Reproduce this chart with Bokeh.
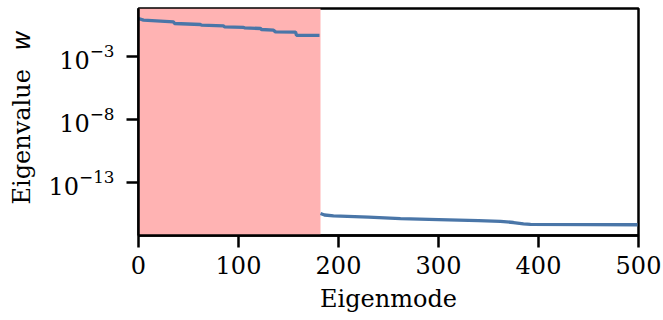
import math
from bokeh.plotting import figure
from bokeh.layouts import row
from bokeh.models import Range1d, FixedTicker, BoxAnnotation
from bokeh.core.properties import value
from bokeh.embed import file_html
from bokeh.resources import INLINE

# ---- data ----
# nonzero eigenvalues (stepwise, degenerate groups)
modes_top = [0, 5, 35, 36, 62, 63, 85, 86, 105, 106, 122, 123, 135, 137, 157, 158, 181]
vals_top = [1.13, 0.84, 0.615, 0.454, 0.378, 0.334, 0.296, 0.246, 0.224, 0.205,
            0.182, 0.151, 0.134, 0.098, 0.095, 0.053, 0.052]
# numerically zero eigenvalues
modes_bot = [182, 186, 195, 230, 262, 300, 340, 362, 375, 385, 392, 450, 499]
vals_bot = [3.5e-16, 2.7e-16, 2.3e-16, 1.8e-16, 1.4e-16, 1.15e-16, 9.5e-17,
            8.5e-17, 6.8e-17, 5.4e-17, 4.8e-17, 4.7e-17, 4.5e-17]
span_start, span_end = 0, 182
x_ticks = [0, 100, 200, 300, 400, 500]
y_ticks = [1e-3, 1e-8, 1e-13]
x_label = "Eigenmode"
y_label_main = "Eigenvalue"
y_label_var = "w"

FONT = "DejaVu Serif"
LINE = "#4a76a8"
LEFT_W = 40

p = figure(width=663 - LEFT_W, height=320, y_axis_type="log",
           x_range=Range1d(0, 500), y_range=Range1d(10 ** -17.2, 10 ** 0.85),
           output_backend="svg", toolbar_location=None,
           min_border_left=138 - LEFT_W, min_border_right=25,
           min_border_top=8, min_border_bottom=85)

p.background_fill_color = "white"
p.border_fill_color = "white"
p.grid.visible = False
p.outline_line_color = "black"
p.outline_line_width = 2.5

p.add_layout(BoxAnnotation(left=span_start, right=span_end,
                           fill_color="#ffb3b3", fill_alpha=1.0, line_color=None,
                           level="underlay"))

p.line(modes_top, vals_top, line_color=LINE, line_width=3.3)
p.line(modes_bot, vals_bot, line_color=LINE, line_width=3.3)

p.xaxis.ticker = FixedTicker(ticks=x_ticks)
p.yaxis.ticker = FixedTicker(ticks=y_ticks)

for ax in (p.xaxis, p.yaxis):
    ax.axis_line_width = 2.5
    ax.axis_line_color = "black"
    ax.major_tick_line_width = 2.5
    ax.major_tick_line_color = "black"
    ax.major_tick_out = 12
    ax.major_tick_in = 0
    ax.minor_tick_line_color = None
    ax.major_label_text_font = FONT
    ax.major_label_text_font_size = "24px"
    ax.major_label_text_color = "black"
    ax.axis_label_text_font = FONT
    ax.axis_label_text_font_size = "24px"
    ax.axis_label_text_font_style = "normal"
    ax.axis_label_text_color = "black"

p.xaxis.major_label_standoff = 8
p.yaxis.major_label_standoff = 12
p.xaxis.axis_label = x_label
p.xaxis.axis_label_standoff = 8

# narrow panel on the left holding the y-axis title ("Eigenvalue" + italic "w")
lab = figure(width=LEFT_W, height=320, x_range=Range1d(0, LEFT_W),
             y_range=Range1d(85, 312), output_backend="svg", toolbar_location=None,
             x_axis_location=None, y_axis_location=None,
             min_border_left=0, min_border_right=0,
             min_border_top=8, min_border_bottom=85)
lab.grid.visible = False
lab.outline_line_color = None
lab.background_fill_color = "white"
lab.border_fill_color = "white"

lab.text(x=[21], y=[116], text=[y_label_main], angle=math.pi / 2,
         text_font=value(FONT), text_font_size="24px", text_color="black",
         text_align="left", text_baseline="alphabetic")
lab.text(x=[21], y=[270], text=[y_label_var], angle=math.pi / 2,
         text_font=value("DejaVu Sans"), text_font_style="italic",
         text_font_size="24px", text_color="black",
         text_align="left", text_baseline="alphabetic")

layout = row(lab, p, spacing=0)
open("out.html", "w").write(file_html(layout, INLINE))
